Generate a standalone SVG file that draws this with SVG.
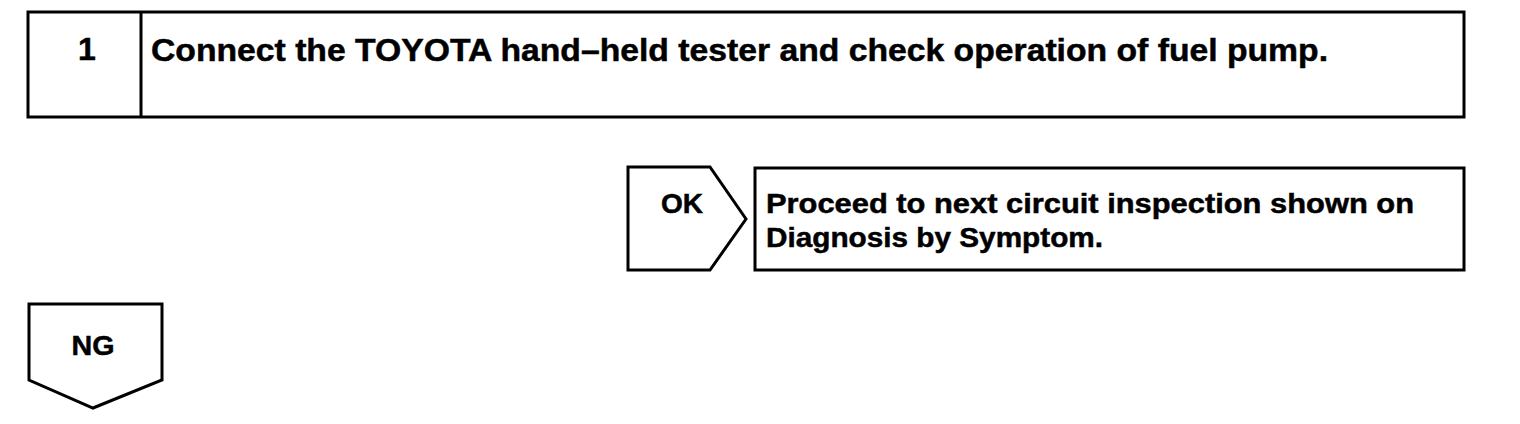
<svg xmlns="http://www.w3.org/2000/svg" width="1520" height="424" viewBox="0 0 1520 424">
<style>
.b{fill:#fff;stroke:#000;stroke-width:3;stroke-linejoin:miter}
.t{font-family:"Liberation Sans",Arial,sans-serif;font-weight:bold;fill:#000;stroke:#000;stroke-width:0.5}
.h{font-size:32px}
.s{font-size:28px}
</style>
<rect width="1520" height="424" fill="#fff"/>
<g id="step1">
<rect class="b" x="28" y="12" width="1436" height="105"/>
<line x1="141" y1="12" x2="141" y2="117" stroke="#000" stroke-width="3"/>
<text class="t h" x="87" y="60" text-anchor="middle">1</text>
<text class="t h" x="151" y="61" textLength="1177" lengthAdjust="spacingAndGlyphs">Connect the TOYOTA hand–held tester and check operation of fuel pump.</text>
</g>
<g id="ok">
<path class="b" d="M628,167 H710 L746,219 L710,270 H628 Z"/>
<text class="t s" x="682" y="213" text-anchor="middle" textLength="42" lengthAdjust="spacingAndGlyphs">OK</text>
</g>
<g id="result">
<rect class="b" x="755" y="168" width="709" height="102"/>
<text class="t s" x="766" y="213" textLength="648" lengthAdjust="spacingAndGlyphs">Proceed to next circuit inspection shown on</text>
<text class="t s" x="766" y="247" textLength="337" lengthAdjust="spacingAndGlyphs">Diagnosis by Symptom.</text>
</g>
<g id="ng">
<path class="b" d="M29,304 H162 V380 L93,408 L29,380 Z"/>
<text class="t s" x="93" y="355" text-anchor="middle" textLength="43" lengthAdjust="spacingAndGlyphs">NG</text>
</g>
<g id="connectors"></g>
</svg>
